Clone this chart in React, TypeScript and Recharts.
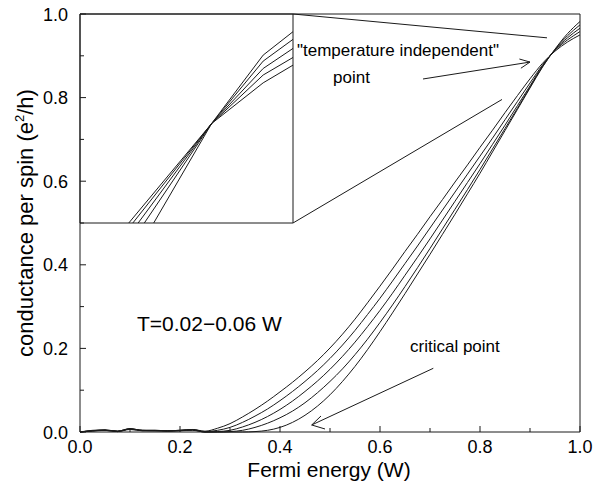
import { LineChart, Line, XAxis, YAxis, ReferenceArea, ReferenceLine } from "recharts";

// Fermi energy grid (W) and the five conductance curves (e^2/h), T = 0.02 ... 0.06 W
const energy = [
  0, 0.025, 0.05, 0.075, 0.1, 0.125, 0.15, 0.175, 0.2, 0.225, 0.25, 0.275, 0.3, 0.325, 0.35, 0.375, 0.4, 0.425,
  0.45, 0.475, 0.5, 0.525, 0.55, 0.575, 0.6, 0.625, 0.65, 0.675, 0.7, 0.725, 0.75, 0.775, 0.8, 0.825, 0.85, 0.875,
  0.9, 0.925, 0.95, 0.975, 1.0,
];
const g1 = [
  0.0, 0.004, 0.005, 0.002, 0.008, 0.004, 0.004, 0.003, 0.004, 0.006, 0.002, 0.009, 0.02, 0.036, 0.054, 0.074,
  0.096, 0.119, 0.144, 0.171, 0.201, 0.234, 0.27, 0.309, 0.349, 0.39, 0.432, 0.473, 0.515, 0.556, 0.598, 0.639,
  0.681, 0.722, 0.764, 0.805, 0.845, 0.882, 0.911, 0.933, 0.95,
];
const g2 = [
  0.0, 0.003, 0.005, 0.002, 0.008, 0.004, 0.004, 0.003, 0.004, 0.006, 0.001, 0.004, 0.011, 0.023, 0.038, 0.055,
  0.075, 0.097, 0.121, 0.147, 0.176, 0.208, 0.243, 0.281, 0.32, 0.361, 0.403, 0.445, 0.488, 0.531, 0.574, 0.617,
  0.66, 0.703, 0.747, 0.791, 0.835, 0.878, 0.913, 0.938, 0.958,
];
const g3 = [
  0.0, 0.003, 0.004, 0.002, 0.007, 0.004, 0.003, 0.003, 0.004, 0.005, 0.0, 0.001, 0.004, 0.012, 0.023, 0.037,
  0.054, 0.074, 0.097, 0.122, 0.15, 0.181, 0.215, 0.252, 0.291, 0.332, 0.375, 0.418, 0.462, 0.507, 0.552, 0.597,
  0.642, 0.688, 0.734, 0.781, 0.828, 0.876, 0.914, 0.943, 0.966,
];
const g4 = [
  0.0, 0.003, 0.004, 0.001, 0.007, 0.003, 0.003, 0.002, 0.003, 0.005, 0.0, 0.0, 0.001, 0.004, 0.011, 0.021,
  0.034, 0.05, 0.07, 0.094, 0.121, 0.151, 0.185, 0.222, 0.262, 0.304, 0.348, 0.393, 0.439, 0.486, 0.533, 0.58,
  0.628, 0.677, 0.726, 0.775, 0.825, 0.874, 0.915, 0.948, 0.974,
];
const g5 = [
  0.0, 0.002, 0.004, 0.001, 0.006, 0.003, 0.003, 0.002, 0.003, 0.004, 0.0, 0.0, 0.0, 0.0, 0.001, 0.004, 0.011,
  0.023, 0.04, 0.062, 0.089, 0.121, 0.157, 0.197, 0.24, 0.285, 0.331, 0.378, 0.425, 0.473, 0.521, 0.57, 0.619,
  0.67, 0.721, 0.772, 0.823, 0.873, 0.916, 0.953, 0.982,
];
const curveKeys = ["g1", "g2", "g3", "g4", "g5"];

const xTicks = [0, 0.1, 0.2, 0.3, 0.4, 0.5, 0.6, 0.7, 0.8, 0.9, 1.0];
const yTicks = [0, 0.1, 0.2, 0.3, 0.4, 0.5, 0.6, 0.7, 0.8, 0.9, 1.0];

// inset: magnified crossing region
const insetStart = [0.8729, 0.8748, 0.8773, 0.8802, 0.8846]; // energy where each curve enters at the bottom
const insetCross = { x: 0.9118, y: 0.8714 };
const insetKneeX = 0.936;
const insetKnee = [0.9006, 0.9062, 0.9109, 0.9162, 0.9205];
const insetEnd = [0.9133, 0.9188, 0.9253, 0.9318, 0.9373];

// annotations in data coordinates
const insetBox = { x2: 0.426, y1: 0.5 };
const zoomLinks = [
  [{ x: 0.426, y: 1.0 }, { x: 0.934, y: 0.943 }],
  [{ x: 0.426, y: 0.5 }, { x: 0.844, y: 0.7955 }],
];
const arrowTI = [
  [{ x: 0.686, y: 0.8445 }, { x: 0.9, y: 0.885 }],
  [{ x: 0.8788, y: 0.8923 }, { x: 0.9, y: 0.885 }],
  [{ x: 0.8818, y: 0.8703 }, { x: 0.9, y: 0.885 }],
];
const arrowCP = [
  [{ x: 0.7066, y: 0.1524 }, { x: 0.4634, y: 0.0168 }],
  [{ x: 0.49, y: 0.0072 }, { x: 0.4634, y: 0.0168 }],
  [{ x: 0.482, y: 0.0383 }, { x: 0.4634, y: 0.0168 }],
];

const FONT = '"Liberation Sans", Arial, Helvetica, sans-serif';
const INK = "#1a1a1a";

const rows = energy.map((x, i) => ({ x, g1: g1[i], g2: g2[i], g3: g3[i], g4: g4[i], g5: g5[i] }));

const insetSeries = insetStart.map((s, i) => [
  { x: s, y: 0.8 },
  insetCross,
  { x: insetKneeX, y: insetKnee[i] },
  { x: 0.95, y: insetEnd[i] },
]);

function isMajor(v: number) {
  return Math.round(v * 10) % 2 === 0;
}

const XTick = (props: any) => {
  const { x, y, payload } = props;
  const major = isMajor(payload.value);
  return (
    <g>
      <line x1={x} y1={y} x2={x} y2={y - (major ? 6 : 4)} stroke={INK} />
      {major && (
        <text x={x} y={y + 21} textAnchor="middle" fontSize={18} fontFamily={FONT} fill="#000">
          {payload.value.toFixed(1)}
        </text>
      )}
    </g>
  );
};

const YTick = (props: any) => {
  const { x, y, payload } = props;
  const major = isMajor(payload.value);
  return (
    <g>
      <line x1={x} y1={y} x2={x + (major ? 6 : 4)} y2={y} stroke={INK} />
      {major && (
        <text x={x - 12} y={y + 6.5} textAnchor="end" fontSize={18} fontFamily={FONT} fill="#000">
          {payload.value.toFixed(1)}
        </text>
      )}
    </g>
  );
};

export default function App() {
  return (
    <div style={{ position: "absolute", left: 0, top: 0, width: 595, height: 483, background: "#fff" }}>
      <LineChart width={595} height={483} data={rows} margin={{ top: 14, right: 15, bottom: 0, left: 0 }}>
        <XAxis
          dataKey="x"
          type="number"
          domain={[0, 1]}
          ticks={xTicks}
          interval={0}
          height={51}
          tickSize={0}
          tickMargin={0}
          tickLine={false}
          axisLine={false}
          tick={<XTick />}
        />
        <YAxis
          type="number"
          domain={[0, 1]}
          ticks={yTicks}
          interval={0}
          width={80}
          tickSize={0}
          tickMargin={0}
          tickLine={false}
          axisLine={false}
          tick={<YTick />}
        />
        <ReferenceArea x1={0} x2={1} y1={0} y2={1} fill="none" stroke={INK} strokeWidth={1} ifOverflow="visible" />
        <ReferenceArea
          x1={0}
          x2={insetBox.x2}
          y1={insetBox.y1}
          y2={1}
          fill="none"
          stroke={INK}
          strokeWidth={1}
          ifOverflow="visible"
        />
        {[...zoomLinks, ...arrowTI, ...arrowCP].map((seg, i) => (
          <ReferenceLine key={i} segment={seg} stroke={INK} strokeWidth={1} ifOverflow="visible" />
        ))}
        {curveKeys.map((k) => (
          <Line
            key={k}
            dataKey={k}
            type="monotone"
            stroke={INK}
            strokeWidth={1}
            dot={false}
            isAnimationActive={false}
          />
        ))}
      </LineChart>

      <div style={{ position: "absolute", left: 80, top: 14 }}>
        <LineChart width={213} height={209} margin={{ top: 0, right: 0, bottom: 0, left: 0 }}>
          <XAxis dataKey="x" type="number" domain={[0.85, 0.95]} hide allowDataOverflow />
          <YAxis dataKey="y" type="number" domain={[0.8, 0.95]} hide allowDataOverflow />
          {insetSeries.map((d, i) => (
            <Line
              key={i}
              data={d}
              dataKey="y"
              type="linear"
              stroke={INK}
              strokeWidth={1}
              dot={false}
              isAnimationActive={false}
            />
          ))}
        </LineChart>
      </div>

      <svg
        width={595}
        height={483}
        style={{ position: "absolute", left: 0, top: 0, pointerEvents: "none" }}
        fontFamily={FONT}
      >
        <text x={33} y={223} transform="rotate(-90 33 223)" textAnchor="middle" fontSize={22} fill="#000">
          conductance per spin (e
          <tspan dy={-9} fontSize={13}>
            2
          </tspan>
          <tspan dy={9}>/h)</tspan>
        </text>
        <text x={329} y={477} textAnchor="middle" fontSize={21} fill="#000">
          Fermi energy (W)
        </text>
        <text x={137} y={331} fontSize={21} fill="#000">
          T=0.02−0.06 W
        </text>
        <text x={297} y={56} fontSize={17} fill="#000">
          "temperature independent"
        </text>
        <text x={333} y={83} fontSize={17} fill="#000">
          point
        </text>
        <text x={410} y={352} fontSize={17} fill="#000">
          critical point
        </text>
      </svg>
    </div>
  );
}
